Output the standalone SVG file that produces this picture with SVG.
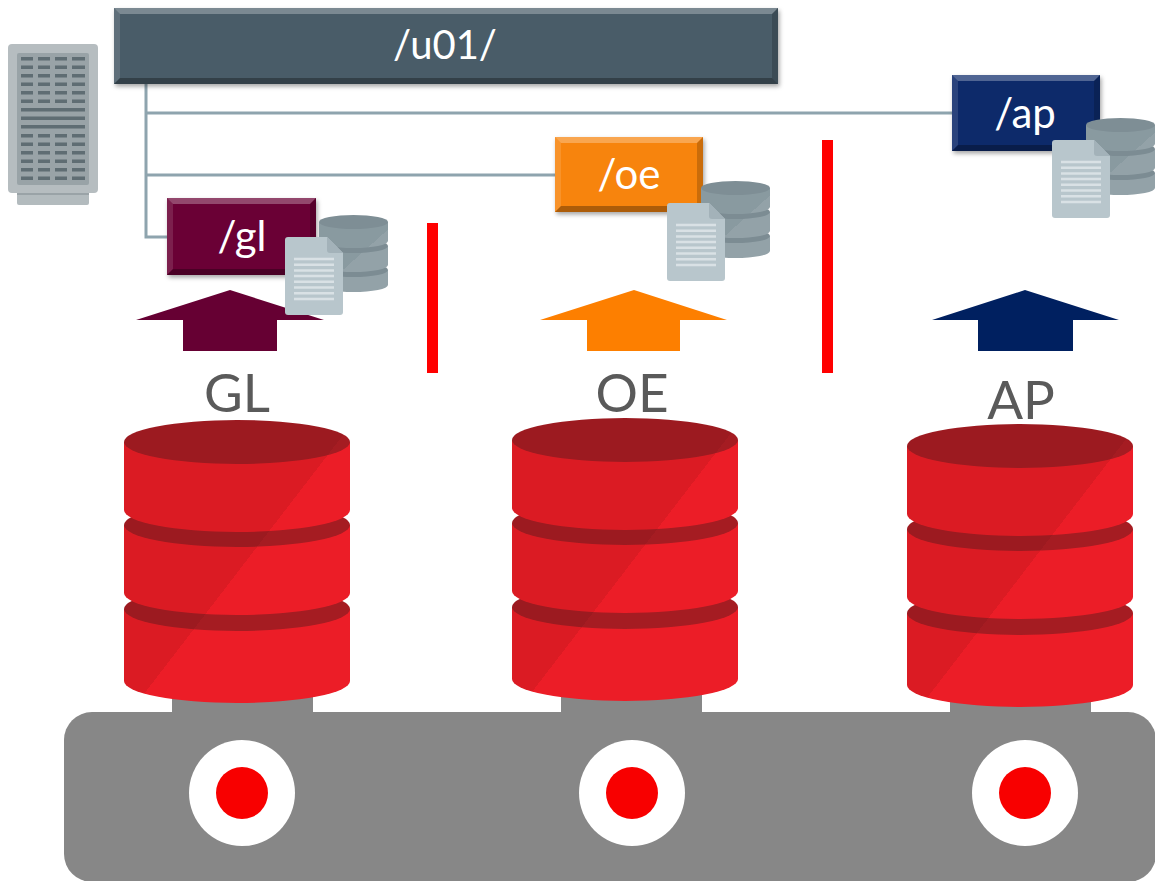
<svg xmlns="http://www.w3.org/2000/svg" xmlns:xlink="http://www.w3.org/1999/xlink" width="1155" height="881" viewBox="0 0 1155 881">
  <style>
    .conn { stroke: #8ea4ae; stroke-width: 3; fill: none; }
    .boxlabel { font-family: Lato, "Open Sans", "Liberation Sans", sans-serif; fill: #ffffff; text-anchor: middle; }
    .dblabel { font-family: Lato, "Open Sans", "Liberation Sans", sans-serif; fill: #5a5a5a; font-size: 53px; text-anchor: middle; }
    .bevel-top { fill: #ffffff; opacity: 0.28; }
    .bevel-left { fill: #ffffff; opacity: 0.12; }
    .bevel-bottom { fill: #000000; opacity: 0.3; }
    .bevel-right { fill: #000000; opacity: 0.18; }
    .divider { fill: #ff0000; }
    .slot { fill: #5f6d73; }
    .docline { stroke: #d9e1e5; stroke-width: 2.5; }
  </style>
  <defs>
    <filter id="shadow" x="-10%" y="-10%" width="130%" height="140%">
      <feDropShadow dx="1.5" dy="2.5" stdDeviation="2" flood-color="#000000" flood-opacity="0.35"/>
    </filter>
    <!-- red database body: darker left, lighter right of a diagonal -->
    <linearGradient id="redBody" gradientUnits="userSpaceOnUse" x1="-32" y1="-173" x2="444" y2="193">
      <stop offset="0" stop-color="#db1b23"/>
      <stop offset="0.5" stop-color="#db1b23"/>
      <stop offset="0.5" stop-color="#ec1d27"/>
      <stop offset="1" stop-color="#ec1d27"/>
    </linearGradient>
    <linearGradient id="redTop" gradientUnits="userSpaceOnUse" x1="-32" y1="-173" x2="444" y2="193">
      <stop offset="0" stop-color="#9c1a20"/>
      <stop offset="0.5" stop-color="#9c1a20"/>
      <stop offset="0.5" stop-color="#a51c22"/>
      <stop offset="1" stop-color="#a51c22"/>
    </linearGradient>
    <linearGradient id="grayBody" gradientUnits="userSpaceOnUse" x1="0" y1="0" x2="69" y2="77">
      <stop offset="0" stop-color="#899aa0"/>
      <stop offset="0.55" stop-color="#899aa0"/>
      <stop offset="0.55" stop-color="#93a2a8"/>
      <stop offset="1" stop-color="#93a2a8"/>
    </linearGradient>

    <!-- large red database: three stacked sections, drawn bottom-up -->
    <g id="redDb">
      <path d="M0,167 V239 A113,22 0 0 0 226,239 V167 Z" fill="url(#redBody)"/>
      <ellipse cx="113" cy="167" rx="113" ry="22" fill="url(#redTop)"/>
      <path d="M0,83 V151 A113,22 0 0 0 226,151 V83 Z" fill="url(#redBody)"/>
      <ellipse cx="113" cy="83" rx="113" ry="22" fill="url(#redTop)"/>
      <path d="M0,0 V68 A113,22 0 0 0 226,68 V0 Z" fill="url(#redBody)"/>
      <ellipse cx="113" cy="0" rx="113" ry="22" fill="url(#redTop)"/>
    </g>

    <!-- small gray database with a document in front -->
    <g id="dataIcon">
      <g transform="translate(34,0)">
        <path d="M0,55 V70 A34.5,7 0 0 0 69,70 V55 Z" fill="url(#grayBody)"/>
        <ellipse cx="34.5" cy="55" rx="34.5" ry="7" fill="#7c8c93"/>
        <path d="M0,31 V50 A34.5,7 0 0 0 69,50 V31 Z" fill="url(#grayBody)"/>
        <ellipse cx="34.5" cy="31" rx="34.5" ry="7" fill="#7c8c93"/>
        <path d="M0,7 V26 A34.5,7 0 0 0 69,26 V7 Z" fill="url(#grayBody)"/>
        <ellipse cx="34.5" cy="7" rx="34.5" ry="7" fill="#7e8e95"/>
      </g>
      <g transform="translate(0,22)">
        <path d="M3,0 H42 L58,16 V75 Q58,78 55,78 H3 Q0,78 0,75 V3 Q0,0 3,0 Z" fill="#b8c6cc"/>
        <path d="M42,0 V13 Q42,16 45,16 H58 Z" fill="#a3b2b9"/>
        <line class="docline" x1="9" y1="22" x2="49" y2="22"/>
        <line class="docline" x1="9" y1="27.7" x2="49" y2="27.7"/>
        <line class="docline" x1="9" y1="33.4" x2="49" y2="33.4"/>
        <line class="docline" x1="9" y1="39.1" x2="49" y2="39.1"/>
        <line class="docline" x1="9" y1="44.8" x2="49" y2="44.8"/>
        <line class="docline" x1="9" y1="50.5" x2="49" y2="50.5"/>
        <line class="docline" x1="9" y1="56.2" x2="49" y2="56.2"/>
        <line class="docline" x1="9" y1="61.9" x2="49" y2="61.9"/>
      </g>
    </g>

    <!-- one row of four rack slots -->
    <g id="slotRow">
      <rect class="slot" x="0" y="0" width="12" height="3.5"/>
      <rect class="slot" x="17" y="0" width="12" height="3.5"/>
      <rect class="slot" x="34" y="0" width="12" height="3.5"/>
      <rect class="slot" x="51" y="0" width="13" height="3.5"/>
    </g>
  </defs>

  <!-- server rack -->
  <g id="server">
    <rect x="17" y="188" width="72" height="17" rx="2" fill="#b3bbbe"/>
    <rect x="17" y="192" width="72" height="3" fill="#9aa3a7"/>
    <rect x="8" y="44" width="90" height="149" rx="4" fill="#b6bdc0"/>
    <rect x="17" y="53" width="72" height="132" rx="2" fill="#99a3a7"/>
    <use xlink:href="#slotRow" x="21" y="57"/>
    <use xlink:href="#slotRow" x="21" y="65.5"/>
    <use xlink:href="#slotRow" x="21" y="74"/>
    <use xlink:href="#slotRow" x="21" y="82.5"/>
    <use xlink:href="#slotRow" x="21" y="91"/>
    <use xlink:href="#slotRow" x="21" y="99.5"/>
    <rect class="slot" x="21" y="108" width="64" height="3.5"/>
    <rect class="slot" x="21" y="116.5" width="64" height="3.5"/>
    <rect class="slot" x="21" y="125" width="64" height="3.5"/>
    <use xlink:href="#slotRow" x="21" y="134"/>
    <use xlink:href="#slotRow" x="21" y="142.5"/>
    <use xlink:href="#slotRow" x="21" y="151"/>
    <use xlink:href="#slotRow" x="21" y="159.5"/>
    <use xlink:href="#slotRow" x="21" y="168"/>
    <use xlink:href="#slotRow" x="21" y="176.5"/>
  </g>

  <!-- tree connectors from the mount point -->
  <g id="connectors">
    <path class="conn" d="M146,84 V237 H168"/>
    <path class="conn" d="M146,113 H953"/>
    <path class="conn" d="M146,175 H556"/>
  </g>

  <!-- /u01/ mount point -->
  <g id="u01">
    <rect x="114" y="8" width="664" height="76" fill="#4a5c67" filter="url(#shadow)"/>
    <polygon class="bevel-top" points="114,8 778,8 772,14 120,14"/>
    <polygon class="bevel-left" points="114,8 120,14 120,78 114,84"/>
    <polygon class="bevel-bottom" points="114,84 778,84 772,78 120,78"/>
    <polygon class="bevel-right" points="778,8 778,84 772,78 772,14"/>
    <text class="boxlabel" x="445" y="59" font-size="40">/u01/</text>
  </g>

  <!-- /ap -->
  <g id="ap-dir">
    <rect x="952" y="75" width="148" height="76" fill="#0b2a6b" filter="url(#shadow)"/>
    <polygon class="bevel-top" points="952,75 1100,75 1094,81 958,81"/>
    <polygon class="bevel-left" points="952,75 958,81 958,145 952,151"/>
    <polygon class="bevel-bottom" points="952,151 1100,151 1094,145 958,145"/>
    <polygon class="bevel-right" points="1100,75 1100,151 1094,145 1094,81"/>
    <text class="boxlabel" x="1025" y="128" font-size="42">/ap</text>
  </g>
  <use id="ap-files" xlink:href="#dataIcon" x="1052" y="118"/>

  <!-- /oe -->
  <g id="oe-dir">
    <rect x="555" y="137" width="148" height="75" fill="#f7840c" filter="url(#shadow)"/>
    <polygon class="bevel-top" points="555,137 703,137 697,143 561,143"/>
    <polygon class="bevel-left" points="555,137 561,143 561,206 555,212"/>
    <polygon class="bevel-bottom" points="555,212 703,212 697,206 561,206"/>
    <polygon class="bevel-right" points="703,137 703,212 697,206 697,143"/>
    <text class="boxlabel" x="629" y="189" font-size="42">/oe</text>
  </g>
  <use id="oe-files" xlink:href="#dataIcon" x="667" y="181"/>

  <!-- /gl -->
  <g id="gl-dir">
    <rect x="167" y="198" width="149" height="77" fill="#6b0034" filter="url(#shadow)"/>
    <polygon class="bevel-top" points="167,198 316,198 310,204 173,204"/>
    <polygon class="bevel-left" points="167,198 173,204 173,269 167,275"/>
    <polygon class="bevel-bottom" points="167,275 316,275 310,269 173,269"/>
    <polygon class="bevel-right" points="316,198 316,275 310,269 310,204"/>
    <text class="boxlabel" x="242" y="251" font-size="42">/gl</text>
  </g>

  <!-- upward arrows -->
  <g id="gl-arrow">
    <polygon points="136,320 230,290 324,320 277,320 277,351 183,351 183,320" fill="#660033"/>
  </g>
  <g id="oe-arrow">
    <polygon points="540,320 634,290 727,320 680,320 680,351 587,351 587,320" fill="#fd7f00"/>
  </g>
  <g id="ap-arrow">
    <polygon points="932,320 1025,290 1119,320 1073,320 1073,351 978,351 978,320" fill="#002060"/>
  </g>
  <use id="gl-files" xlink:href="#dataIcon" x="285" y="215"/>

  <!-- separators -->
  <rect class="divider" x="427" y="223" width="11" height="150"/>
  <rect class="divider" x="822" y="140" width="11" height="233"/>

  <!-- labels -->
  <text class="dblabel" x="237" y="412">GL</text>
  <text class="dblabel" x="632" y="412">OE</text>
  <text class="dblabel" x="1021" y="419">AP</text>

  <!-- shared platform -->
  <g id="platform">
    <rect x="172" y="688" width="141" height="30" fill="#878787"/>
    <rect x="561" y="688" width="141" height="30" fill="#878787"/>
    <rect x="950" y="688" width="141" height="30" fill="#878787"/>
    <rect x="64" y="712" width="1092" height="170" rx="28" fill="#878787"/>
    <circle cx="242" cy="793" r="53" fill="#ffffff"/>
    <circle cx="242" cy="793" r="26" fill="#f80000"/>
    <circle cx="632" cy="793" r="53" fill="#ffffff"/>
    <circle cx="632" cy="793" r="26" fill="#f80000"/>
    <circle cx="1025" cy="793" r="53" fill="#ffffff"/>
    <circle cx="1025" cy="793" r="26" fill="#f80000"/>
  </g>

  <!-- databases -->
  <use id="gl-db" xlink:href="#redDb" x="124" y="442"/>
  <use id="oe-db" xlink:href="#redDb" x="512" y="440"/>
  <use id="ap-db" xlink:href="#redDb" x="907" y="446"/>
</svg>
